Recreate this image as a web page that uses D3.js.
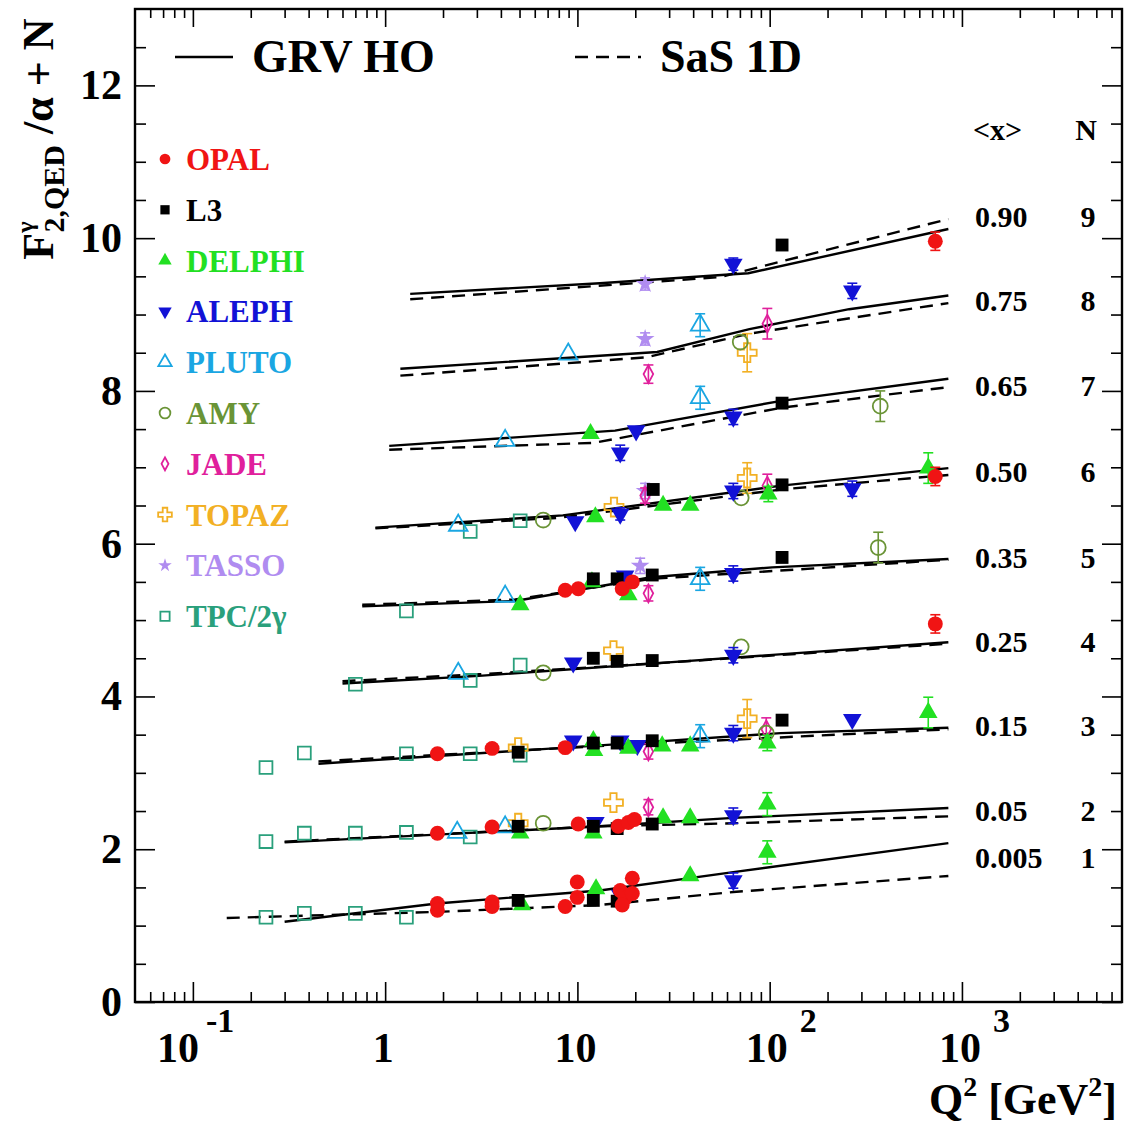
<!DOCTYPE html>
<html>
<head>
<meta charset="utf-8">
<script src="https://cdn.jsdelivr.net/npm/d3@7"></script>
<style>
  body { margin: 0; background: #fff; }
  text { font-family: "Liberation Serif", "Times New Roman", serif; font-weight: bold; }
</style>
</head>
<body>
<div id="chart"></div>
<script>
// x-bin labels and offsets N, bottom to top
const xMeans = ["0.005", "0.05", "0.15", "0.25", "0.35", "0.50", "0.65", "0.75", "0.90"];
const nValues = [1, 2, 3, 4, 5, 6, 7, 8, 9];

// GRV HO curves, [Q2, F2/alpha + N], one array per N
const grvHO = [
  [[0.30, 1.05], [1.86, 1.29], [13.1, 1.46], [64.7, 1.70], [850, 2.08]],
  [[0.30, 2.09], [13.1, 2.30], [64.7, 2.41], [850, 2.54]],
  [[0.45, 3.12], [13.1, 3.36], [114, 3.52], [850, 3.59]],
  [[0.60, 4.17], [3.08, 4.27], [24.2, 4.43], [850, 4.71]],
  [[0.76, 5.18], [4.75, 5.25], [24.2, 5.56], [103, 5.69], [850, 5.80]],
  [[0.89, 6.21], [8.4, 6.37], [115, 6.76], [850, 6.99]],
  [[1.05, 7.28], [15.7, 7.48], [115, 7.87], [850, 8.16]],
  [[1.20, 8.29], [26, 8.51], [78.5, 8.81], [259, 9.07], [850, 9.25]],
  [[1.35, 9.27], [13.1, 9.41], [58.7, 9.52], [77.4, 9.54], [850, 10.12]]
];

// SaS 1D curves
const sas1D = [
  [[0.15, 1.10], [1.86, 1.18], [13.1, 1.27], [64.7, 1.44], [850, 1.65]],
  [[0.30, 2.10], [13.1, 2.30], [64.7, 2.34], [850, 2.43]],
  [[0.45, 3.15], [13.1, 3.35], [850, 3.57]],
  [[0.60, 4.20], [3.08, 4.29], [24.2, 4.43], [850, 4.69]],
  [[0.76, 5.20], [4.75, 5.27], [24.2, 5.54], [850, 5.79]],
  [[0.89, 6.20], [8.1, 6.34], [115, 6.71], [850, 6.90]],
  [[1.05, 7.23], [12.2, 7.32], [115, 7.78], [850, 8.05]],
  [[1.20, 8.20], [22.8, 8.44], [78.5, 8.75], [850, 9.15]],
  [[1.35, 9.20], [55, 9.49], [850, 10.25]]
];

// measurements [Q2, F2/alpha + N, error]
const opal = [
  [727, 9.96, 0.12], [727, 6.88, 0.12],
  [8.64, 5.39, 0], [10.1, 5.41, 0], [17.1, 5.41, 0], [19.3, 5.50, 0],
  [727, 4.95, 0.12],
  [1.87, 3.25, 0], [3.60, 3.32, 0], [8.64, 3.33, 0],
  [1.87, 2.21, 0], [3.60, 2.29, 0], [10.1, 2.33, 0], [16.3, 2.30, 0], [18.4, 2.35, 0], [19.8, 2.39, 0],
  [1.87, 1.29, 0], [1.87, 1.20, 0], [3.60, 1.31, 0], [3.60, 1.25, 0], [8.64, 1.25, 0],
  [9.98, 1.57, 0], [9.98, 1.37, 0], [16.7, 1.46, 0], [17.7, 1.36, 0], [19.3, 1.62, 0],
  [19.3, 1.42, 0], [17.1, 1.27, 0]
];
const l3 = [
  [116, 9.91, 0], [116, 7.84, 0], [24.8, 6.71, 0], [116, 6.77, 0],
  [12.1, 5.54, 0], [16.1, 5.54, 0], [24.5, 5.59, 0], [116, 5.82, 0],
  [12.1, 4.50, 0], [16.1, 4.46, 0], [24.5, 4.47, 0],
  [4.92, 3.27, 0], [12.1, 3.39, 0], [16.1, 3.39, 0], [24.5, 3.42, 0], [116, 3.69, 0],
  [4.92, 2.30, 0], [12.1, 2.30, 0], [16.1, 2.27, 0], [24.5, 2.33, 0],
  [4.92, 1.33, 0], [12.1, 1.33, 0], [16.1, 1.32, 0]
];
const delphi = [
  [11.7, 7.44, 0],
  [12.4, 6.35, 0], [27.9, 6.50, 0], [38.6, 6.50, 0], [98.4, 6.65, 0.1], [668, 6.99, 0.2],
  [5.04, 5.20, 0], [11.9, 5.50, 0], [18.4, 5.33, 0],
  [12.1, 3.42, 0], [12.2, 3.29, 0], [18.4, 3.32, 0], [27.6, 3.35, 0], [38.6, 3.35, 0], [97.2, 3.39, 0.1], [668, 3.79, 0.2],
  [5.04, 2.21, 0], [12.1, 2.21, 0], [27.9, 2.41, 0], [38.6, 2.41, 0], [97.2, 2.59, 0.15],
  [5.16, 1.27, 0], [12.5, 1.48, 0], [38.6, 1.65, 0], [97.2, 1.96, 0.15]
];
const aleph = [
  [64.7, 9.66, 0.08], [269, 9.31, 0.1],
  [16.7, 7.19, 0.1], [20.2, 7.48, 0], [64.7, 7.66, 0.1],
  [9.74, 6.29, 0], [16.7, 6.39, 0.08], [64.7, 6.69, 0.1], [269, 6.72, 0.1],
  [17.7, 5.58, 0], [64.7, 5.61, 0.1],
  [9.51, 4.44, 0], [64.7, 4.54, 0.1],
  [9.51, 3.42, 0], [16.7, 3.42, 0], [20.5, 3.36, 0], [64.7, 3.52, 0.1], [269, 3.70, 0],
  [12.4, 2.35, 0], [64.7, 2.44, 0.1],
  [16.7, 1.40, 0.1], [64.7, 1.59, 0.1]
];
const pluto = [
  [8.96, 8.48, 0], [43.5, 8.86, 0.15],
  [4.21, 7.35, 0], [43.5, 7.91, 0.15],
  [2.40, 6.24, 0],
  [4.21, 5.31, 0], [43.5, 5.54, 0.15],
  [2.40, 4.30, 0],
  [43.5, 3.48, 0.15],
  [2.37, 2.22, 0], [4.21, 2.29, 0]
];
const amy = [
  [70.3, 8.64, 0], [376, 7.80, 0.2], [6.64, 6.31, 0], [71.1, 6.60, 0],
  [367, 5.95, 0.2], [6.64, 4.31, 0], [71.1, 4.65, 0], [96, 3.52, 0], [6.64, 2.34, 0]
];
const jade = [
  [23.4, 8.22, 0.12], [97.2, 8.88, 0.2], [22.5, 6.63, 0.1], [97.2, 6.76, 0.15],
  [23.4, 5.35, 0.1], [23.4, 3.28, 0.1], [96, 3.57, 0.15], [23.4, 2.55, 0.1]
];
const topaz = [
  [76.4, 8.50, 0.25], [15.5, 6.48, 0], [76.4, 6.86, 0.2], [15.4, 4.60, 0],
  [4.92, 3.33, 0], [76.4, 3.71, 0.25], [4.92, 2.34, 0], [15.4, 2.61, 0]
];
const tasso = [
  [22.5, 9.40, 0.08], [22.5, 8.68, 0.08], [22.5, 6.69, 0.1], [21.2, 5.71, 0.1]
];
const tpc = [
  [2.77, 6.16, 0], [5.04, 6.30, 0],
  [1.29, 5.12, 0],
  [0.70, 4.16, 0], [2.77, 4.21, 0], [5.04, 4.41, 0],
  [0.24, 3.07, 0], [0.38, 3.26, 0], [1.29, 3.25, 0], [2.77, 3.25, 0], [5.04, 3.23, 0],
  [0.24, 2.10, 0], [0.38, 2.21, 0], [0.70, 2.21, 0], [1.29, 2.22, 0], [2.77, 2.16, 0],
  [0.24, 1.11, 0], [0.38, 1.16, 0], [0.70, 1.16, 0], [1.29, 1.11, 0]
];

const yTicks = [0, 2, 4, 6, 8, 10, 12];

const experiments = [
  { name: "OPAL", data: opal, color: "#f01414", shape: "circle", filled: true },
  { name: "L3", data: l3, color: "#000000", shape: "square", filled: true },
  { name: "DELPHI", data: delphi, color: "#22e022", shape: "triangle", filled: true },
  { name: "ALEPH", data: aleph, color: "#1212d6", shape: "triangleDown", filled: true },
  { name: "PLUTO", data: pluto, color: "#1aa6e2", shape: "triangle", filled: false },
  { name: "AMY", data: amy, color: "#6a9436", shape: "circle", filled: false },
  { name: "JADE", data: jade, color: "#e0209c", shape: "diamond", filled: false },
  { name: "TOPAZ", data: topaz, color: "#f2b024", shape: "cross", filled: false },
  { name: "TASSO", data: tasso, color: "#b08cf0", shape: "star", filled: true },
  { name: "TPC/2γ", data: tpc, color: "#2aa07c", shape: "square", filled: false }
];

const W = 1124, H = 1125;
const svg = d3.select("#chart").append("svg")
  .attr("width", W).attr("height", H)
  .style("display", "block");

const x = d3.scaleLog().domain([0.05, 6800]).range([135, 1122]);
const y = d3.scaleLinear().domain([0, 13]).range([1002, 9]);

// minor ticks
const xMinor = [];
for (let e = -2; e <= 3; e++) {
  for (let m = 2; m <= 9; m++) {
    const v = m * Math.pow(10, e);
    if (v > 0.05 && v < 6800) xMinor.push(v);
  }
}
const xMajor = [0.1, 1, 10, 100, 1000];
const yMinor = d3.range(0.5, 13, 0.5).filter((v) => v % 2 !== 0);

function axisStyle(g) {
  g.select(".domain").remove();
  g.selectAll("line").attr("stroke", "#000").attr("stroke-width", 1.6);
}

svg.append("g").attr("transform", "translate(0,1002)")
  .call(d3.axisBottom(x).tickValues(xMajor).tickSize(-20).tickFormat("")).call(axisStyle);
svg.append("g").attr("transform", "translate(0,1002)")
  .call(d3.axisBottom(x).tickValues(xMinor).tickSize(-10).tickFormat("")).call(axisStyle);
svg.append("g").attr("transform", "translate(0,9)")
  .call(d3.axisTop(x).tickValues(xMajor).tickSize(-18).tickFormat("")).call(axisStyle);
svg.append("g").attr("transform", "translate(0,9)")
  .call(d3.axisTop(x).tickValues(xMinor).tickSize(-9).tickFormat("")).call(axisStyle);
svg.append("g").attr("transform", "translate(135,0)")
  .call(d3.axisLeft(y).tickValues(yTicks).tickSize(-20).tickFormat("")).call(axisStyle);
svg.append("g").attr("transform", "translate(135,0)")
  .call(d3.axisLeft(y).tickValues(yMinor).tickSize(-11).tickFormat("")).call(axisStyle);
svg.append("g").attr("transform", "translate(1122,0)")
  .call(d3.axisRight(y).tickValues(yTicks).tickSize(-20).tickFormat("")).call(axisStyle);
svg.append("g").attr("transform", "translate(1122,0)")
  .call(d3.axisRight(y).tickValues(yMinor).tickSize(-11).tickFormat("")).call(axisStyle);

// frame
svg.append("rect")
  .attr("x", 135).attr("y", 9)
  .attr("width", 1122 - 135).attr("height", 1002 - 9)
  .attr("fill", "none").attr("stroke", "#000").attr("stroke-width", 2.4);

// y tick labels
svg.append("g").selectAll("text").data(yTicks).join("text")
  .attr("x", 122).attr("y", (d) => y(d) + 14)
  .attr("text-anchor", "end").attr("font-size", 42)
  .text((d) => d);

// x tick labels
const xLabels = [
  { v: 0.1, base: "10", exp: "-1", dx: -36, edx: 7 },
  { v: 1, base: "1", exp: null },
  { v: 10, base: "10", exp: null },
  { v: 100, base: "10", exp: "2", dx: -24, edx: 12 },
  { v: 1000, base: "10", exp: "3", dx: -23, edx: 12 }
];
xLabels.forEach((l) => {
  const t = svg.append("text").attr("y", 1062).attr("font-size", 42);
  if (l.exp) {
    t.attr("x", x(l.v) + l.dx).attr("text-anchor", "start").text(l.base);
    t.append("tspan").attr("dx", l.edx).attr("dy", -30).attr("font-size", 34).text(l.exp);
  } else {
    t.attr("x", x(l.v) - 2).attr("text-anchor", "middle").text(l.base);
  }
});

// axis titles
const xt = svg.append("text").attr("x", 1117).attr("y", 1114)
  .attr("text-anchor", "end").attr("font-size", 44);
xt.append("tspan").text("Q");
xt.append("tspan").attr("dy", -18).attr("font-size", 28).text("2");
xt.append("tspan").attr("dy", 18).text(" [GeV");
xt.append("tspan").attr("dy", -18).attr("font-size", 28).text("2");
xt.append("tspan").attr("dy", 18).text("]");

const yt = svg.append("text").attr("transform", "translate(53,139) rotate(-90)")
  .attr("text-anchor", "middle").attr("font-size", 44);
yt.append("tspan").text("F");
yt.append("tspan").attr("dy", -20).attr("font-size", 24).text("γ");
yt.append("tspan").attr("dx", -11).attr("dy", 31).attr("font-size", 30).text("2,QED");
yt.append("tspan").attr("dy", -11).text(" /α + N");

// theory curves
const line = d3.line().x((d) => x(d[0])).y((d) => y(d[1]));
svg.append("g").selectAll("path").data(sas1D).join("path")
  .attr("d", line).attr("fill", "none").attr("stroke", "#000")
  .attr("stroke-width", 2.4).attr("stroke-dasharray", "13,8");
svg.append("g").selectAll("path").data(grvHO).join("path")
  .attr("d", line).attr("fill", "none").attr("stroke", "#000")
  .attr("stroke-width", 2.4);

// markers
function shapePath(shape, s) {
  if (shape === "diamond") return `M0,${-9 * s}L${4.8 * s},0L0,${9 * s}L${-4.8 * s},0Z`;
  const types = {
    circle: d3.symbolCircle, square: d3.symbolSquare, triangle: d3.symbolTriangle,
    triangleDown: d3.symbolTriangle, cross: d3.symbolCross, star: d3.symbolStar
  };
  const sizes = { circle: 175, square: 165, triangle: 150, triangleDown: 150, cross: 200, star: 110 };
  return d3.symbol(types[shape], sizes[shape] * s * s)();
}

function drawMarker(g, e, s) {
  g.append("path")
    .attr("d", shapePath(e.shape, s))
    .attr("transform", e.shape === "triangleDown" ? "rotate(180)" : null)
    .attr("fill", e.filled ? e.color : "none")
    .attr("stroke", e.filled ? "none" : e.color)
    .attr("stroke-width", 1.8);
}

const drawOrder = experiments.slice().reverse();
drawOrder.forEach((e) => {
  const g = svg.append("g");
  // error bars
  e.data.filter((d) => d[2] > 0).forEach((d) => {
    const cx = x(d[0]), y0 = y(d[1] - d[2]), y1 = y(d[1] + d[2]);
    g.append("line").attr("x1", cx).attr("x2", cx).attr("y1", y0).attr("y2", y1)
      .attr("stroke", e.color).attr("stroke-width", 1.6);
    [y0, y1].forEach((yy) => {
      g.append("line").attr("x1", cx - 5).attr("x2", cx + 5).attr("y1", yy).attr("y2", yy)
        .attr("stroke", e.color).attr("stroke-width", 1.6);
    });
  });
  e.data.forEach((d) => {
    const m = g.append("g").attr("transform", `translate(${x(d[0])},${y(d[1])})`);
    drawMarker(m, e, 1);
  });
});

// legend of experiments
experiments.forEach((e, i) => {
  const ly = 159 + i * 50.8;
  const m = svg.append("g").attr("transform", `translate(165,${ly})`);
  drawMarker(m, e, 0.72);
  svg.append("text").attr("x", 186).attr("y", ly + 11)
    .attr("font-size", 31).attr("fill", e.color).text(e.name);
});

// legend of curves
svg.append("line").attr("x1", 175).attr("x2", 233).attr("y1", 57).attr("y2", 57)
  .attr("stroke", "#000").attr("stroke-width", 2.6);
svg.append("text").attr("x", 252).attr("y", 72).attr("font-size", 46).text("GRV HO");
svg.append("line").attr("x1", 575).attr("x2", 641).attr("y1", 57).attr("y2", 57)
  .attr("stroke", "#000").attr("stroke-width", 2.6).attr("stroke-dasharray", "13,8");
svg.append("text").attr("x", 660).attr("y", 72).attr("font-size", 46).text("SaS 1D");

// <x> and N labels, placed at the end of the GRV curve
svg.append("text").attr("x", 973).attr("y", 140).attr("font-size", 30)
  .attr("font-weight", "normal").text("<x>");
svg.append("text").attr("x", 1086).attr("y", 140).attr("font-size", 30)
  .attr("text-anchor", "middle").text("N");
const nudge = [-0.18, -0.03, 0.03, 0.02, 0.02, -0.04, -0.08, -0.06, 0.17];
nValues.forEach((n, i) => {
  const end = grvHO[i][grvHO[i].length - 1][1] + nudge[i];
  svg.append("text").attr("x", 975).attr("y", y(end) + 11)
    .attr("font-size", 30).text(xMeans[i]);
  svg.append("text").attr("x", 1088).attr("y", y(end) + 11)
    .attr("font-size", 30).attr("text-anchor", "middle").text(n);
});
</script>
</body>
</html>
